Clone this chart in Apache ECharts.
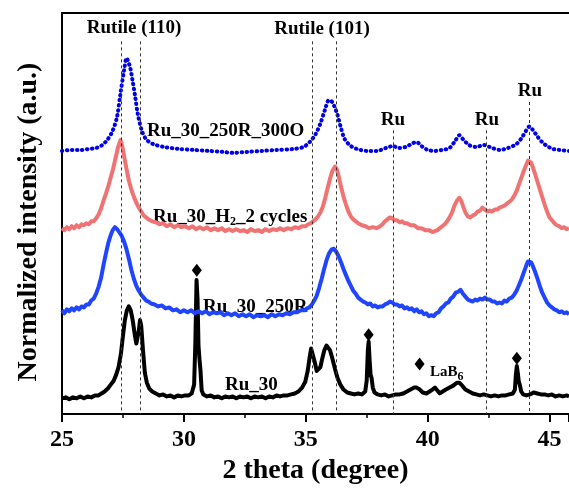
<!DOCTYPE html>
<html><head><meta charset="utf-8">
<script src="https://cdn.jsdelivr.net/npm/echarts@6/dist/echarts.min.js"></script>
<style>html,body{margin:0;padding:0;background:#fff}#c{width:569px;height:490px}</style>
</head><body><div id="c"></div>
<script>
// x: 2 theta (degree); y: offset normalized intensity (a.u.)
var xTicks = [25, 30, 35, 40, 45];
var ru30 = [[25.0,16],[25.15,17],[25.3,15],[25.45,17],[25.6,16],[25.75,18],[25.9,16],[26.05,18],[26.2,17],[26.35,19],[26.5,19],[26.62,21],[26.75,23],[26.88,26],[27.0,30],[27.12,34],[27.22,40],[27.32,48],[27.42,62],[27.5,80],[27.58,96],[27.66,106],[27.74,110],[27.82,106],[27.9,96],[27.98,82],[28.05,72],[28.1,72],[28.15,85],[28.2,96],[28.25,90],[28.32,66],[28.4,42],[28.48,32],[28.58,26],[28.7,23],[28.85,21],[29.0,19],[29.15,20],[29.3,18],[29.45,19],[29.6,17],[29.75,19],[29.9,18],[30.05,19],[30.2,19],[30.32,21],[30.42,30],[30.47,72],[30.52,137],[30.56,118],[30.6,70],[30.64,56],[30.68,45],[30.73,24],[30.8,20],[30.95,18],[31.1,19],[31.25,17],[31.4,18],[31.55,16],[31.7,18],[31.85,17],[32.0,18],[32.15,16],[32.3,18],[32.45,17],[32.6,18],[32.75,16],[32.9,18],[33.05,17],[33.2,18],[33.35,16],[33.5,18],[33.65,17],[33.8,19],[33.95,18],[34.1,19],[34.25,19],[34.4,20],[34.55,21],[34.7,23],[34.85,27],[34.98,33],[35.08,44],[35.16,58],[35.22,67],[35.28,66],[35.36,54],[35.45,44],[35.52,42],[35.6,48],[35.68,57],[35.76,65],[35.85,70],[35.92,70],[36.0,65],[36.1,56],[36.2,46],[36.3,37],[36.42,30],[36.55,25],[36.7,22],[36.85,21],[37.0,20],[37.15,21],[37.3,20],[37.44,23],[37.5,34],[37.55,66],[37.58,74],[37.62,55],[37.66,40],[37.7,37],[37.75,27],[37.82,22],[37.95,20],[38.1,19],[38.25,20],[38.4,18],[38.55,19],[38.7,20],[38.85,20],[39.0,21],[39.15,23],[39.3,25],[39.45,27],[39.55,27],[39.68,25],[39.8,22],[39.95,21],[40.08,23],[40.2,25],[40.3,27],[40.4,24],[40.5,21],[40.62,23],[40.75,25],[40.9,27],[41.05,29],[41.2,32],[41.3,32],[41.42,29],[41.55,25],[41.7,23],[41.85,21],[42.0,20],[42.15,19],[42.3,20],[42.45,19],[42.6,18],[42.75,19],[42.9,18],[43.05,19],[43.2,19],[43.35,20],[43.5,21],[43.58,25],[43.62,40],[43.66,49],[43.7,42],[43.74,33],[43.78,30],[43.84,23],[43.92,20],[44.05,19],[44.2,20],[44.35,22],[44.5,21],[44.65,20],[44.8,20],[44.95,19],[45.1,20],[45.25,18],[45.4,19],[45.55,18],[45.7,19],[45.8,18]];
var ru30_250R = [[25.0,106],[25.1,103],[25.2,107],[25.3,105],[25.4,108],[25.5,106],[25.6,109],[25.7,107],[25.8,110],[25.9,109],[26.0,112],[26.1,112],[26.2,116],[26.3,118],[26.4,123],[26.5,130],[26.6,139],[26.7,152],[26.8,164],[26.9,175],[27.0,183],[27.08,188],[27.17,191],[27.26,189],[27.35,186],[27.45,182],[27.55,176],[27.65,168],[27.75,158],[27.85,147],[27.95,138],[28.05,131],[28.15,126],[28.25,122],[28.35,119],[28.45,116],[28.55,115],[28.65,113],[28.8,112],[28.95,110],[29.1,111],[29.25,108],[29.4,109],[29.55,106],[29.7,107],[29.85,104],[30.0,106],[30.15,104],[30.3,106],[30.45,103],[30.6,105],[30.75,103],[30.9,105],[31.05,102],[31.2,104],[31.35,103],[31.5,104],[31.65,101],[31.8,103],[31.95,101],[32.1,103],[32.25,100],[32.4,102],[32.55,100],[32.7,102],[32.85,99],[33.0,101],[33.15,100],[33.3,101],[33.45,99],[33.6,102],[33.75,100],[33.9,102],[34.05,101],[34.2,103],[34.35,102],[34.5,104],[34.65,104],[34.8,106],[34.95,106],[35.05,108],[35.15,109],[35.25,112],[35.35,116],[35.45,121],[35.55,129],[35.65,138],[35.75,148],[35.85,157],[35.95,164],[36.05,168],[36.15,169],[36.25,166],[36.35,161],[36.45,155],[36.55,148],[36.65,142],[36.75,136],[36.85,131],[36.95,126],[37.05,123],[37.15,119],[37.25,117],[37.35,115],[37.45,114],[37.55,112],[37.65,113],[37.75,110],[37.85,111],[37.95,109],[38.05,110],[38.15,110],[38.25,112],[38.35,113],[38.45,115],[38.55,114],[38.65,112],[38.75,112],[38.85,110],[38.95,111],[39.05,108],[39.15,109],[39.25,107],[39.35,108],[39.45,105],[39.55,107],[39.65,104],[39.75,105],[39.85,102],[39.95,103],[40.05,100],[40.15,101],[40.25,100],[40.35,103],[40.45,104],[40.55,108],[40.65,110],[40.75,113],[40.85,114],[40.95,118],[41.05,120],[41.15,124],[41.25,125],[41.35,127],[41.45,123],[41.55,120],[41.65,117],[41.75,116],[41.85,115],[41.95,117],[42.05,116],[42.15,118],[42.25,117],[42.35,119],[42.45,117],[42.55,117],[42.65,115],[42.75,115],[42.85,113],[42.95,114],[43.05,113],[43.15,116],[43.25,115],[43.35,118],[43.45,119],[43.55,122],[43.65,126],[43.75,132],[43.85,138],[43.95,145],[44.05,152],[44.12,156],[44.18,158],[44.25,155],[44.32,151],[44.4,146],[44.5,139],[44.6,131],[44.7,124],[44.8,119],[44.9,114],[45.0,111],[45.1,109],[45.2,107],[45.3,106],[45.4,104],[45.5,105],[45.6,103],[45.7,104],[45.8,102]];
var ru30_H2 = [[25.0,190],[25.1,188],[25.2,191],[25.3,189],[25.4,192],[25.5,190],[25.6,193],[25.7,191],[25.8,194],[25.9,193],[26.0,195],[26.1,194],[26.2,197],[26.3,197],[26.4,200],[26.5,204],[26.6,210],[26.7,218],[26.8,225],[26.9,233],[27.0,242],[27.1,251],[27.2,262],[27.3,273],[27.4,280],[27.48,273],[27.56,262],[27.65,250],[27.75,238],[27.85,229],[27.95,222],[28.05,216],[28.15,211],[28.25,207],[28.35,203],[28.45,201],[28.55,199],[28.7,197],[28.85,196],[29.0,194],[29.15,195],[29.3,192],[29.45,194],[29.6,191],[29.75,193],[29.9,191],[30.05,192],[30.2,190],[30.35,192],[30.5,189],[30.65,191],[30.8,189],[30.95,191],[31.1,188],[31.25,190],[31.4,188],[31.55,190],[31.7,187],[31.85,189],[32.0,187],[32.15,189],[32.3,187],[32.45,188],[32.6,186],[32.75,189],[32.9,187],[33.05,188],[33.2,186],[33.35,189],[33.5,187],[33.65,189],[33.8,188],[33.95,190],[34.1,188],[34.25,190],[34.4,189],[34.55,191],[34.7,190],[34.85,192],[35.0,192],[35.1,194],[35.2,195],[35.3,197],[35.4,199],[35.5,202],[35.6,206],[35.7,212],[35.8,221],[35.9,231],[36.0,241],[36.1,249],[36.2,253],[36.28,250],[36.36,242],[36.45,232],[36.55,222],[36.65,214],[36.75,207],[36.85,202],[36.95,199],[37.05,197],[37.15,195],[37.3,193],[37.45,192],[37.6,190],[37.75,191],[37.9,190],[38.05,192],[38.15,194],[38.25,197],[38.35,199],[38.45,201],[38.55,200],[38.65,198],[38.75,198],[38.85,196],[38.95,197],[39.05,195],[39.15,195],[39.3,193],[39.45,193],[39.6,190],[39.75,190],[39.9,188],[40.05,188],[40.2,186],[40.3,187],[40.4,188],[40.5,190],[40.6,192],[40.7,194],[40.8,197],[40.9,201],[41.0,206],[41.1,213],[41.2,218],[41.3,221],[41.38,218],[41.46,212],[41.55,206],[41.65,202],[41.75,201],[41.85,203],[41.95,204],[42.05,207],[42.15,208],[42.25,211],[42.35,209],[42.45,207],[42.55,208],[42.65,207],[42.75,209],[42.85,209],[42.95,211],[43.05,212],[43.15,213],[43.25,215],[43.35,217],[43.45,219],[43.55,223],[43.65,228],[43.75,235],[43.85,242],[43.95,249],[44.05,255],[44.12,259],[44.18,261],[44.25,257],[44.32,252],[44.4,246],[44.5,238],[44.6,230],[44.7,222],[44.8,214],[44.9,207],[45.0,201],[45.1,198],[45.2,195],[45.3,193],[45.4,192],[45.5,190],[45.6,191],[45.7,189],[45.8,190]];
var ru30_300O = [[25.0,269],[25.4,270],[25.8,270],[26.1,271],[26.4,272],[26.65,275],[26.85,280],[27.05,288],[27.25,303],[27.4,328],[27.55,352],[27.65,364],[27.72,360],[27.8,354],[27.9,340],[28.0,325],[28.1,308],[28.27,290],[28.45,281],[28.74,276],[29.2,273],[29.8,271],[30.4,270],[31.0,269],[31.6,268],[32.0,267],[32.6,268],[33.2,269],[33.8,270],[34.5,271],[34.9,273],[35.16,278],[35.4,286],[35.6,297],[35.8,312],[35.95,321],[36.05,320],[36.15,316],[36.3,306],[36.45,292],[36.6,281],[36.85,274],[37.1,271],[37.5,269],[37.9,269],[38.3,272],[38.58,274],[38.8,272],[39.1,273],[39.4,277],[39.55,278],[39.75,274],[40.0,270],[40.3,269],[40.6,270],[40.9,272],[41.15,280],[41.3,285],[41.45,281],[41.7,275],[42.0,273],[42.3,275],[42.55,273],[42.95,270],[43.3,272],[43.64,276],[43.85,282],[44.05,290],[44.18,294],[44.3,291],[44.5,284],[44.7,278],[44.9,274],[45.14,271],[45.4,270],[45.8,269]];
var lab6Marks = [[30.53,147],[37.58,81],[43.66,57],[39.67,51]];
var refLines = [[27.42,381],[28.21,381],[35.27,381],[36.25,381],[38.58,290],[42.4,290],[44.18,319]];

var FONT = '"Liberation Serif", "Times New Roman", serif';
var chart = echarts.init(document.getElementById('c'), null, {renderer:'canvas'});
function txt(x, y, rich, align, size){
  return {type:'text', x:x, y:y, style:{text:rich, fontFamily:FONT, fontWeight:'bold', fontSize:size||19, fill:'#000', align:align||'left', verticalAlign:'middle',
    rich:{n:{fontFamily:FONT,fontWeight:'bold',fontSize:size||19,fill:'#000'}, s:{fontFamily:FONT,fontWeight:'bold',fontSize:12,fill:'#000',padding:[10,0,0,0]}}}};
}
var mk = refLines.map(function(r){ return [{coord:[r[0], r[1]]},{coord:[r[0], 0]}]; });
chart.setOption({
  animation:false,
  grid:{left:62, top:13, right:0, bottom:67, containLabel:false},
  xAxis:[{type:'value', min:25, max:45.8, interval:5, position:'bottom',
    axisLine:{lineStyle:{color:'#000', width:2}},
    axisTick:{show:true, inside:false, length:8, lineStyle:{color:'#000', width:2}},
    minorTick:{show:true, splitNumber:2, length:4, lineStyle:{color:'#000', width:1.5}},
    splitLine:{show:false},
    axisLabel:{show:true, margin:14, showMaxLabel:false, color:'#000', fontFamily:FONT, fontWeight:'bold', fontSize:24,
      formatter:function(v){ return xTicks.indexOf(v) >= 0 ? String(v) : ''; }},
    name:'2 theta (degree)', nameLocation:'middle', nameGap:43,
    nameTextStyle:{color:'#000', fontFamily:FONT, fontWeight:'bold', fontSize:28}},
   {type:'value', min:25, max:45.8, position:'top', axisLine:{show:true, lineStyle:{color:'#000', width:2}},
    axisTick:{show:false}, axisLabel:{show:false}, splitLine:{show:false}}],
  yAxis:{type:'value', min:0, max:410, axisLine:{show:true, lineStyle:{color:'#000', width:2}},
    axisTick:{show:false}, axisLabel:{show:false}, splitLine:{show:false}},
  series:[
    {type:'line', name:'Ru_30', data:ru30, showSymbol:false, lineStyle:{color:'#000', width:4, join:'round'}, z:3,
      markLine:{silent:true, symbol:['none','none'], label:{show:false}, lineStyle:{color:'#333', width:1, type:[3,3]}, data:mk}},
    {type:'line', name:'Ru_30_250R', data:ru30_250R, showSymbol:false, lineStyle:{color:'#1f45ff', width:4, join:'round'}, z:3},
    {type:'line', name:'Ru_30_H2_2 cycles', data:ru30_H2, showSymbol:false, lineStyle:{color:'#f07373', width:4, join:'round'}, z:3},
    {type:'line', name:'Ru_30_250R_300O', data:ru30_300O, showSymbol:false, smooth:0.3, lineStyle:{color:'#0000e6', width:4, type:[0.5,4.5], cap:'round'}, z:4},
    {type:'scatter', data:lab6Marks, symbol:'diamond', symbolSize:[10,13], itemStyle:{color:'#000', opacity:1}, z:5}
  ],
  graphic:[
    {type:'text', x:29, y:222, rotation:Math.PI/2, style:{text:'Normalized intensity (a.u.)', fontFamily:FONT, fontWeight:'bold', fontSize:28, fill:'#000', align:'center', verticalAlign:'middle'}},
    txt(134, 28, 'Rutile (110)', 'center'),
    txt(322, 29, 'Rutile (101)', 'center'),
    txt(393, 120, 'Ru', 'center'),
    txt(487, 120, 'Ru', 'center'),
    txt(530, 91, 'Ru', 'center'),
    txt(147, 131, 'Ru_30_250R_300O', 'left'),
    txt(153, 217, '{n|Ru_30_H}{s|2}{n|_2 cycles}', 'left'),
    txt(203, 307, 'Ru_30_250R', 'left'),
    txt(225, 385, 'Ru_30', 'left'),
    txt(430, 372, '{n|LaB}{s|6}', 'left', 15)
  ]
});
</script></body></html>
